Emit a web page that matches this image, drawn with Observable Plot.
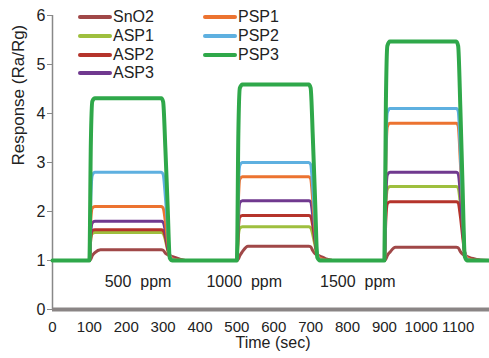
<!DOCTYPE html>
<html>
<head>
<meta charset="utf-8">
<script src="https://cdn.jsdelivr.net/npm/d3@7"></script>
<script src="https://cdn.jsdelivr.net/npm/@observablehq/plot@0.6"></script>
<style>
  body { margin: 0; background: #fff; font-family: "Liberation Sans", Arial, sans-serif; }
  #wrap { position: relative; width: 489px; height: 358px; }
  #legend { position: absolute; left: 0; top: 0; width: 489px; height: 100px; pointer-events: none; }
  .item { position: absolute; display: flex; align-items: center; font-size: 16px; color: #222; height: 18px; }
  .sw { width: 34px; height: 3.5px; border-radius: 2px; margin-right: 1px; }
</style>
</head>
<body>
<div id="wrap"><div id="legend"></div></div>
<script>
const times = [0, 100, 104, 108, 115, 130, 295, 300, 306, 312, 318, 325, 340, 360,
  500, 504, 508, 515, 530, 695, 700, 706, 712, 718, 725, 740, 760,
  900, 904, 908, 915, 930, 1095, 1100, 1106, 1112, 1118, 1125, 1140, 1160, 1185];

const SnO2 = [1, 1, 1.03, 1.1, 1.16, 1.22, 1.22, 1.21, 1.15, 1.12, 1.1, 1.08, 1.04, 1,
  1, 1.03, 1.1, 1.18, 1.29, 1.29, 1.28, 1.2, 1.14, 1.11, 1.09, 1.04, 1,
  1, 1.03, 1.1, 1.17, 1.27, 1.27, 1.26, 1.18, 1.13, 1.1, 1.08, 1.04, 1.01, 1];
const ASP1 = [1, 1, 1.45, 1.55, 1.57, 1.57, 1.57, 1.55, 1.42, 1.22, 1.08, 1.04, 1.01, 1,
  1, 1.5, 1.66, 1.69, 1.69, 1.69, 1.67, 1.52, 1.3, 1.1, 1.05, 1.01, 1,
  1, 2.1, 2.46, 2.51, 2.51, 2.51, 2.48, 2.15, 1.65, 1.15, 1.06, 1.01, 1, 1];
const ASP2 = [1, 1, 1.48, 1.61, 1.63, 1.63, 1.63, 1.61, 1.48, 1.25, 1.1, 1.06, 1.02, 1,
  1, 1.65, 1.89, 1.92, 1.92, 1.92, 1.9, 1.7, 1.38, 1.12, 1.07, 1.02, 1,
  1, 1.85, 2.16, 2.2, 2.2, 2.2, 2.18, 1.9, 1.5, 1.15, 1.07, 1.02, 1, 1];
const ASP3 = [1, 1, 1.6, 1.77, 1.8, 1.8, 1.8, 1.78, 1.6, 1.3, 1.1, 1.05, 1.01, 1,
  1, 1.85, 2.18, 2.22, 2.22, 2.22, 2.2, 1.9, 1.45, 1.12, 1.06, 1.01, 1,
  1, 2.3, 2.75, 2.8, 2.8, 2.8, 2.77, 2.35, 1.7, 1.15, 1.06, 1.01, 1, 1];
const PSP1 = [1, 1, 1.85, 2.07, 2.1, 2.1, 2.1, 2.07, 1.8, 1.4, 1.1, 1.04, 1.01, 1,
  1, 2.2, 2.66, 2.71, 2.71, 2.71, 2.67, 2.2, 1.6, 1.12, 1.05, 1.01, 1,
  1, 3.0, 3.73, 3.8, 3.8, 3.8, 3.75, 3.0, 2.0, 1.15, 1.05, 1.01, 1, 1];
const PSP2 = [1, 1, 2.3, 2.74, 2.8, 2.8, 2.8, 2.76, 2.3, 1.7, 1.1, 1.01, 1, 1,
  1, 2.45, 2.94, 3.0, 3.0, 3.0, 2.96, 2.45, 1.8, 1.12, 1.01, 1, 1,
  1, 3.2, 4.02, 4.1, 4.1, 4.1, 4.05, 3.2, 2.1, 1.15, 1.02, 1, 1, 1];
const PSP3 = [1, 1, 3.4, 4.25, 4.31, 4.31, 4.31, 4.24, 3.3, 2.15, 1.05, 1, 1, 1,
  1, 3.6, 4.52, 4.59, 4.59, 4.59, 4.52, 3.5, 2.25, 1.06, 1, 1, 1,
  1, 4.2, 5.38, 5.47, 5.47, 5.47, 5.38, 4.1, 2.5, 1.08, 1, 1, 1, 1];

const seriesNames = ["SnO2", "ASP1", "ASP2", "ASP3", "PSP1", "PSP2", "PSP3"];
const seriesValues = [SnO2, ASP1, ASP2, ASP3, PSP1, PSP2, PSP3];
const seriesColors = ["#a04848", "#9ebf3e", "#b5342b", "#70398f", "#ec7330", "#5eb0e0", "#2fa84a"];

const xTicks = [0, 100, 200, 300, 400, 500, 600, 700, 800, 900, 1000, 1100];
const yTicks = [0, 1, 2, 3, 4, 5, 6];

const ppmLabels = ["500\u00a0 ppm", "1000\u00a0 ppm", "1500\u00a0 ppm"];
const ppmX = [232, 520, 828];
const ppmY = [0.57, 0.57, 0.57];

const lineMarks = seriesNames.map((name, i) => {
  const rows = times.map((t, j) => ({t, v: seriesValues[i][j]}));
  return Plot.line(rows, {
    x: "t", y: "v", stroke: seriesColors[i],
    strokeWidth: name === "PSP3" ? 4 : 3, curve: "monotone-x"
  });
});

const ppmRows = ppmLabels.map((s, i) => ({s, x: ppmX[i], y: ppmY[i]}));

const chart = Plot.plot({
  width: 489, height: 358,
  marginLeft: 52, marginRight: 0, marginTop: 15, marginBottom: 49,
  style: {fontFamily: "Liberation Sans, Arial, sans-serif", color: "#222", background: "white"},
  x: {domain: [0, 1185]},
  y: {domain: [0, 6]},
  marks: [
    Plot.ruleX([0], {stroke: "#888", strokeWidth: 1.5}),
    Plot.axisY(yTicks, {tickSize: 5, tickPadding: 2, fontSize: 16, stroke: "#888", label: null, tickFormat: d => String(d)}),
    Plot.axisX(xTicks, {tickSize: 0, tickPadding: 12, fontSize: 15, label: null, letterSpacing: -0.4, tickFormat: d => String(d)}),
    ...lineMarks,
    Plot.ruleY([0], {stroke: "#8a8585", strokeWidth: 4}),
    Plot.text(ppmRows, {x: "x", y: "y", text: "s", fontSize: 16, fill: "#222"}),
    Plot.text(["Response (Ra/Rg)"], {frameAnchor: "left", rotate: -90, dx: -34, dy: 3, fontSize: 17, fill: "#222"}),
    Plot.text(["Time (sec)"], {frameAnchor: "bottom", dy: 38, dx: 2, fontSize: 16, fill: "#222", letterSpacing: -0.5})
  ]
});
document.getElementById("wrap").prepend(chart);

const legend = document.getElementById("legend");
const rowsY = [17, 36, 55, 73];
seriesNames.forEach((name, i) => {
  const col = i < 4 ? 0 : 1;
  const row = i < 4 ? i : i - 4;
  const el = document.createElement("div");
  el.className = "item";
  el.style.left = (col === 0 ? 78 : 203) + "px";
  el.style.top = (rowsY[row] - 9) + "px";
  const sw = document.createElement("div");
  sw.className = "sw";
  sw.style.background = seriesColors[i];
  const tx = document.createElement("span");
  tx.textContent = name;
  el.appendChild(sw); el.appendChild(tx);
  legend.appendChild(el);
});
</script>
</body>
</html>
